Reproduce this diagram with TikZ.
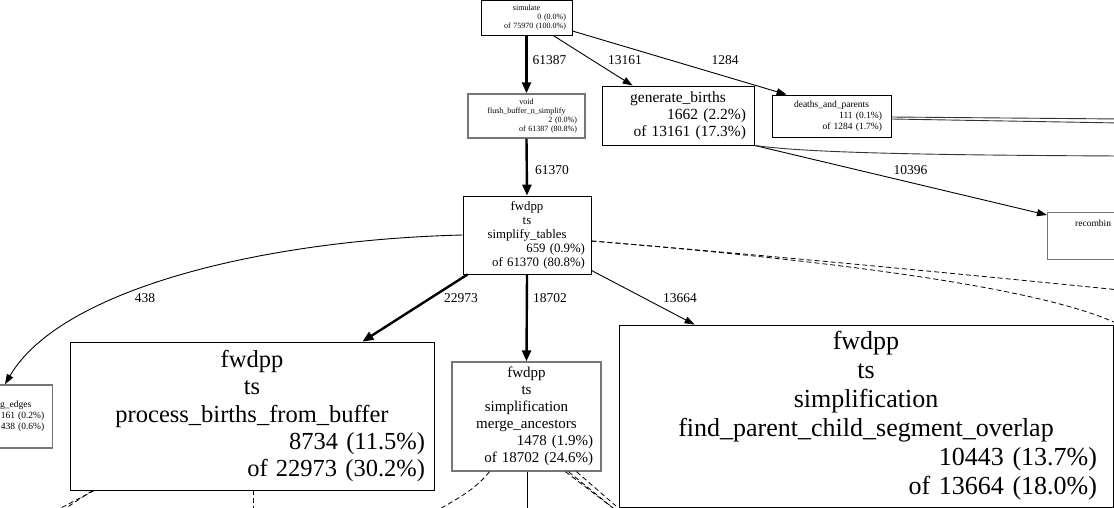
\documentclass[tikz,border=0pt]{standalone}
\usepackage{fontspec}
\setmainfont{Liberation Serif}
\usetikzlibrary{arrows.meta}
\newcommand{\rjust}[1]{\hspace*{\fill}#1}

\begin{document}
\begin{tikzpicture}[x=1pt,y=1pt,yscale=-1,xscale=1,
  fnbox/.style={draw, rectangle, align=center, inner ysep=0pt, line width=0.8pt},
  dimbox/.style={fnbox, draw={rgb,255:red,118;green,118;blue,118}, line width=1.4pt},
  elabel/.style={font=\fontsize{13.5}{15}\selectfont, inner sep=0pt},
  callarrow/.style={-{Triangle[length=10pt,width=7pt]}, line width=0.9pt},
  heavyarrow/.style={-{Triangle[length=11pt,width=9pt]}, line width=2.4pt},
  dashcall/.style={dash pattern=on 5pt off 3pt, line width=0.8pt}]
\useasboundingbox (0,0) rectangle (1114,508);
\clip (0,0) rectangle (1114,508);

\draw (526.5,17.5) node [fnbox, minimum width=91pt, minimum height=35pt, text width=79pt, inner xsep=6pt, font=\fontsize{8}{9.2}\selectfont] (sim) {simulate\\ \rjust{0 (0.0\%)}\\ \rjust{of 75970 (100.0\%)}};
\draw (526.5,116) node [dimbox, minimum width=117pt, minimum height=44pt, text width=101pt, inner xsep=8pt, font=\fontsize{8}{8.9}\selectfont] (flush) {void\\ flush\_buffer\_n\_simplify\\ \rjust{2 (0.0\%)}\\ \rjust{of 61387 (80.8\%)}};
\draw (678,115.5) node [fnbox, minimum width=152pt, minimum height=59pt, text width=136pt, inner xsep=8pt, font=\fontsize{15.5}{16.8}\selectfont] (gen) {generate\_births\\ \rjust{1662 (2.2\%)}\\ \rjust{of 13161 (17.3\%)}};
\draw (831.5,116) node [fnbox, minimum width=119pt, minimum height=42pt, text width=101pt, inner xsep=9pt, font=\fontsize{9.5}{10.8}\selectfont] (deaths) {deaths\_and\_parents\\ \rjust{111 (0.1\%)}\\ \rjust{of 1284 (1.7\%)}};
\draw (1047,212) node [dimbox, anchor=north west, minimum width=150pt, minimum height=47pt] (recomb) {};
\draw (1075,223) node [anchor=west, inner sep=0pt, font=\fontsize{9.5}{10.8}\selectfont] (recombtext) {recombin};
\draw (527,235) node [fnbox, minimum width=128pt, minimum height=78pt, text width=116pt, inner xsep=6pt, font=\fontsize{12.8}{14}\selectfont] (simp) {fwdpp\\ ts\\ simplify\_tables\\ \rjust{659 (0.9\%)}\\ \rjust{of 61370 (80.8\%)}};
\draw (53,416.5) node [dimbox, anchor=east, minimum width=120pt, minimum height=63pt, text width=104pt, inner xsep=8pt, font=\fontsize{9.5}{11.2}\selectfont] (edgesbox) {\rjust{g\_edges\kern13pt}\\ \rjust{161 (0.2\%)}\\ \rjust{438 (0.6\%)}};
\draw (252,416) node [fnbox, minimum width=364pt, minimum height=148pt, text width=346pt, inner xsep=9pt, font=\fontsize{24.5}{27.2}\selectfont] (proc) {fwdpp\\ ts\\ process\_births\_from\_buffer\\ \rjust{8734 (11.5\%)}\\ \rjust{of 22973 (30.2\%)}};
\draw (526.5,416.5) node [dimbox, minimum width=149pt, minimum height=109pt, text width=133pt, inner xsep=8pt, font=\fontsize{15}{17}\selectfont] (merge) {fwdpp\\ ts\\ simplification\\ merge\_ancestors\\ \rjust{1478 (1.9\%)}\\ \rjust{of 18702 (24.6\%)}};
\draw (866,416) node [fnbox, minimum width=494pt, minimum height=182pt, text width=462pt, inner xsep=16pt, font=\fontsize{26}{29}\selectfont] (find) {fwdpp\\ ts\\ simplification\\ find\_parent\_child\_segment\_overlap\\ \rjust{10443 (13.7\%)}\\ \rjust{of 13664 (18.0\%)}};

\coordinate (simin) at (527,-10);
\coordinate (genout) at (1120,156);
\coordinate (deathsoutA) at (1120,119);
\coordinate (deathsoutB) at (1120,123);
\coordinate (simpoutA) at (1120,290);
\coordinate (simpoutB) at (1120,325);
\coordinate (procoutA) at (57,510);
\coordinate (procoutB) at (63,510);
\coordinate (procoutC) at (253,510);
\coordinate (mergeoutA) at (438,510);
\coordinate (mergeoutB) at (527,510);
\coordinate (mergeoutC) at (613,508);
\coordinate (mergeoutD) at (616,506);

\draw [line width=0.9pt] (simin) -- (sim.north);
\draw [heavyarrow] (sim.south) -- (flush.north);
\draw [callarrow] ([xshift=26.5pt]sim.south) -- ([xshift=31pt]gen.north west);
\draw [callarrow] ([yshift=13.5pt]sim.east) -- ([xshift=15pt]deaths.north west);
\draw [heavyarrow] (flush.south) -- (simp.north);
\draw [callarrow] (gen.south east) -- ([yshift=3pt]recomb.north west);
\draw [line width=0.9pt, black!80] (gen.south east) .. controls (800,152) and (900,155) .. (genout);
\draw [line width=0.9pt, black!80] ([yshift=1pt]deaths.east) -- (deathsoutA);
\draw [line width=0.9pt, black!80] ([yshift=3pt]deaths.east) -- (deathsoutB);
\draw [callarrow] (simp.west) .. controls (260,240) and (60,290) .. ([xshift=-48pt]edgesbox.north east);
\draw [heavyarrow] ([xshift=5pt]simp.south west) -- ([xshift=-72pt]proc.north east);
\draw [heavyarrow] (simp.south) -- (merge.north);
\draw [callarrow] ([yshift=-4pt]simp.south east) -- ([xshift=76pt]find.north west);
\draw [dashcall] ([yshift=6pt]simp.east) .. controls (800,258) and (1000,278) .. (simpoutA);
\draw [dashcall] ([yshift=6pt]simp.east) .. controls (850,262) and (1050,290) .. (simpoutB);
\draw [dashcall] ([xshift=25pt]proc.south west) -- (procoutA);
\draw [dashcall] ([xshift=23pt]proc.south west) -- (procoutB);
\draw [dashcall] ([xshift=1pt]proc.south) -- (procoutC);
\draw [dashcall] ([xshift=-37pt]merge.south) .. controls (475,490) and (455,500) .. (mergeoutA);
\draw [line width=0.9pt] ([xshift=0.5pt]merge.south) -- (mergeoutB);
\draw [dashcall] ([xshift=39pt]merge.south) -- (mergeoutC);
\draw [dashcall] ([xshift=42pt]merge.south) -- (mergeoutC);
\draw [dashcall] ([xshift=50pt]merge.south) -- (mergeoutD);

\draw (549.5,60) node [elabel] (l61387) {61387};
\draw (625,60) node [elabel] (l13161) {13161};
\draw (725,60) node [elabel] (l1284) {1284};
\draw (552,170) node [elabel] (l61370) {61370};
\draw (910.5,170) node [elabel] (l10396) {10396};
\draw (145,298) node [elabel] (l438) {438};
\draw (461,298) node [elabel] (l22973) {22973};
\draw (550,298) node [elabel] (l18702) {18702};
\draw (680,298) node [elabel] (l13664) {13664};
\end{tikzpicture}
\end{document}
